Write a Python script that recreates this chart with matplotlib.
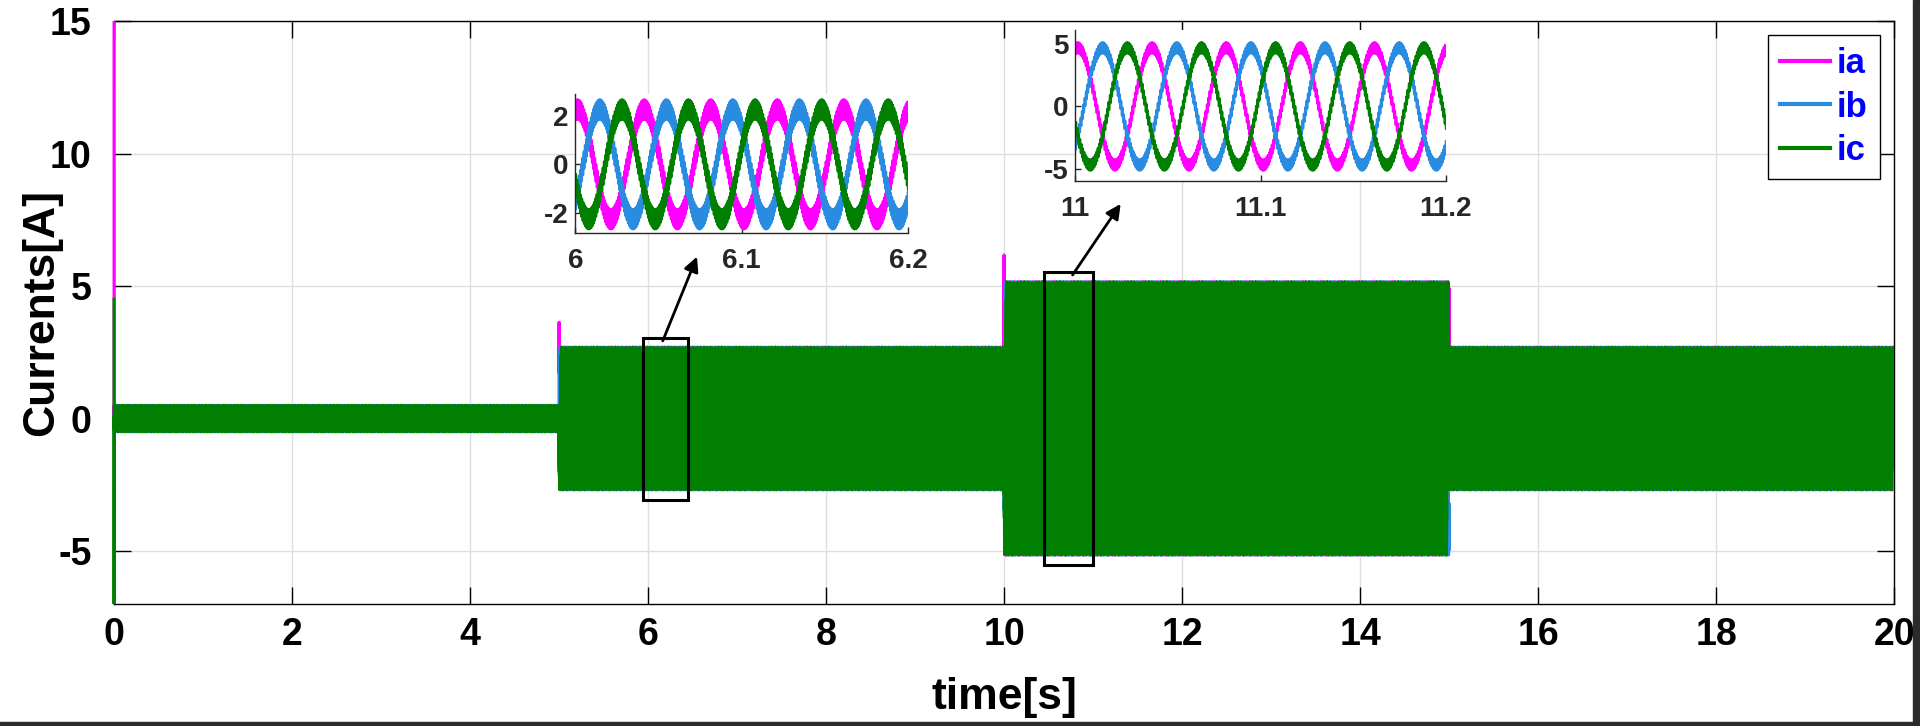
import numpy as np
import matplotlib
matplotlib.use('Agg')
import matplotlib.pyplot as plt
from matplotlib.patches import Rectangle
from matplotlib.transforms import Bbox, TransformedBbox

# ---------------- data ----------------
seg_edges = [0.0, 5.0, 10.0, 15.0, 20.0]      # time segment edges [s]
fund_amp = [0.30, 2.28, 4.72, 2.28]           # fundamental amplitude per segment [A]
ripple_amp = [0.20, 0.42, 0.45, 0.42]         # switching ripple per segment [A]
freq_hz = 25.0                                # fundamental frequency
ripple_hz = 1370.0                            # switching ripple frequency
peak_delay = 0.0014                           # delay of ia peak inside each period [s]
phase_labels = ['ia', 'ib', 'ic']
phase_shift_deg = [0.0, -120.0, 120.0]
phase_colors = ['#FF00FF', '#2A8CE0', '#007F00']
ia_start = [18.0]                             # start-up transient samples at t=0
ib_start = []
ic_start = [4.5, -9.0]
step_times = [5.0, 10.0]                      # load steps with an ia overshoot
ia_step_peak = [3.63, 6.17]
x_ticks = [0, 2, 4, 6, 8, 10, 12, 14, 16, 18, 20]
y_ticks = [-5, 0, 5, 10, 15]
inset_windows = [(6.0, 6.2), (11.0, 11.2)]
inset_xticks = [[6, 6.1, 6.2], [11, 11.1, 11.2]]
inset_xticklabels = [['6', '6.1', '6.2'], ['11', '11.1', '11.2']]
inset_yticks = [[-2, 0, 2], [-5, 0, 5]]
inset_ylims = [(-2.85, 2.92), (-6.0, 6.15)]
zoom_boxes = [(5.94, -3.08, 6.45, 3.05), (10.45, -5.54, 11.0, 5.54)]
arrow_tails = [(6.165, 2.93), (10.77, 5.42)]
arrow_heads = [(6.55, 6.11), (11.31, 8.10)]


def current(t, k):
    seg = np.clip(np.searchsorted(seg_edges, t, side='right') - 1, 0, len(fund_amp) - 1)
    A = np.asarray(fund_amp)[seg]
    R = np.asarray(ripple_amp)[seg]
    theta = 2 * np.pi * freq_hz * (t - peak_delay) + np.deg2rad(phase_shift_deg[k])
    return A * np.cos(theta) + R * np.sin(2 * np.pi * ripple_hz * t + k * 2 * np.pi / 3)


plt.rcParams['font.family'] = ['Liberation Sans', 'DejaVu Sans']
plt.rcParams['font.weight'] = 'bold'
plt.rcParams['axes.unicode_minus'] = False
plt.rcParams['agg.path.chunksize'] = 10000

fig = plt.figure(figsize=(19.2, 7.26), dpi=100)
ax = fig.add_axes([0.0594, 0.168, 0.9271, 0.803])

fs = 6000.0
t_main = np.arange(seg_edges[0], seg_edges[-1], 1.0 / fs)
starts = [ia_start, ib_start, ic_start]
clip_bb = TransformedBbox(Bbox([[-0.0012, 0.0], [1.0, 1.0]]), ax.transAxes)
lines = []
for k in range(3):
    y = current(t_main, k)
    tt = np.concatenate([np.zeros(len(starts[k])), t_main])
    yy = np.concatenate([np.asarray(starts[k], dtype=float), y])
    if k == 0:
        tt = np.concatenate([tt, np.asarray(step_times)])
        yy = np.concatenate([yy, np.asarray(ia_step_peak)])
        order = np.argsort(tt, kind='stable')
        tt, yy = tt[order], yy[order]
    ln, = ax.plot(tt, yy, color=phase_colors[k], lw=2.2, label=phase_labels[k],
                  zorder=3)
    ln.set_clip_box(clip_bb)
    lines.append(ln)

ax.set_xlim(0, 20)
ax.set_ylim(-7, 15)
ax.set_xticks(x_ticks)
ax.set_yticks(y_ticks)
ax.grid(True, color='#DEDEDE', lw=1.0)
ax.set_axisbelow(True)
ax.tick_params(direction='in', length=12, width=1, top=True, right=True,
               labelsize=27, pad=9, colors='black')
ax.tick_params(axis='y', pad=16)
for sp in ax.spines.values():
    sp.set_linewidth(1.0)
    sp.set_color('black')
ax.set_xlabel('time[s]', fontsize=32, fontweight='bold')
ax.set_ylabel('Currents[A]', fontsize=32, fontweight='bold')
ax.xaxis.set_label_coords(0.5, -0.125)
ax.yaxis.set_label_coords(-0.029, 0.5)

# zoom boxes and arrows
for (x0, y0, x1, y1) in zoom_boxes:
    ax.add_patch(Rectangle((x0, y0), x1 - x0, y1 - y0, fill=False,
                           edgecolor='black', lw=2.2, zorder=5))
for tail, head in zip(arrow_tails, arrow_heads):
    ax.annotate('', xy=head, xytext=tail,
                arrowprops=dict(arrowstyle='-|>', color='black', lw=2.0,
                                mutation_scale=22, shrinkA=0, shrinkB=0),
                zorder=6)

leg = ax.legend(handles=lines, loc='upper right',
                bbox_to_anchor=(1880 / 1920, 1 - 35 / 726),
                bbox_transform=fig.transFigure,
                prop={'weight': 'bold', 'size': 25},
                handlelength=1.45, handletextpad=0.2, labelspacing=0.3,
                borderpad=0.35, borderaxespad=0, fancybox=False,
                framealpha=1, edgecolor='black')
leg.get_frame().set_linewidth(1.0)
leg.set_zorder(7)
for txt in leg.get_texts():
    txt.set_color('#0000FF')
for h in leg.legend_handles:
    h.set_linewidth(3.0)

# insets
inset_rects = [[575.3 / 1920, 1 - 233 / 726, 332.7 / 1920, 139 / 726],
               [1075.3 / 1920, 1 - 181 / 726, 370.7 / 1920, 151 / 726]]
fs_in = 40000.0
for i in range(2):
    ia_ax = fig.add_axes(inset_rects[i])
    ia_ax.set_facecolor('white')
    t0, t1 = inset_windows[i]
    t_in = np.arange(t0, t1 + 0.5 / fs_in, 1.0 / fs_in)
    for k in range(3):
        ia_ax.plot(t_in, current(t_in, k), color=phase_colors[k], lw=1.6)
    ia_ax.set_xlim(t0, t1)
    ia_ax.set_ylim(*inset_ylims[i])
    ia_ax.set_xticks(inset_xticks[i])
    ia_ax.set_xticklabels(inset_xticklabels[i])
    ia_ax.set_yticks(inset_yticks[i])
    ia_ax.spines['top'].set_visible(False)
    ia_ax.spines['right'].set_visible(False)
    for s in ('left', 'bottom'):
        ia_ax.spines[s].set_color('#262626')
        ia_ax.spines[s].set_linewidth(1.0)
    ia_ax.tick_params(direction='in', length=4, width=1, labelsize=20,
                      colors='#262626')
    ia_ax.tick_params(axis='x', pad=11)
    ia_ax.tick_params(axis='y', pad=5)

# screenshot frame strips
fig.patches.append(Rectangle((0, 0), 1, 4 / 726, transform=fig.transFigure,
                             color='#2b2b2b', zorder=10))
fig.patches.append(Rectangle((1913 / 1920, 0), 7 / 1920, 1, transform=fig.transFigure,
                             color='#2b2b2b', zorder=10))

fig.savefig('out.png', dpi=100, facecolor='white')
